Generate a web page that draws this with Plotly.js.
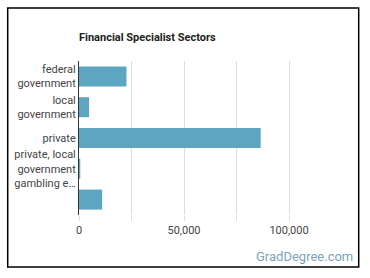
<!DOCTYPE html>
<html>
<head>
<meta charset="utf-8">
<script src="https://cdn.plot.ly/plotly-3.0.1.min.js"></script>
<style>html,body{margin:0;padding:0;background:#fff;}#chart{width:370px;height:278px;}</style>
</head>
<body>
<div id="chart"></div>
<script>
const categories = ["federal government", "local government", "private", "private, local government gambling establishments", "other"];
const tickLabels = ["federal<br>government", "local<br>government", "private", "private, local<br>government<br>gambling e\u2026", ""];
const values = [22600, 4800, 86500, 600, 11000];
const xTickVals = [0, 50000, 100000];
const xTickText = ["0", "50,000", "100,000"];

const L = 79.3, R = 370 - 331.3, T = 61, B = 278 - 215;
const W = 370 - L - R, H = 278 - T - B;
const px = v => (v - L) / W;
const py = v => (278 - B - v) / H;

const trace = {
  type: 'bar', orientation: 'h',
  x: values, y: categories,
  marker: {color: '#5ea5c2'},
  hoverinfo: 'none'
};
const layout = {
  width: 370, height: 278,
  margin: {l: L, r: R, t: T, b: B, pad: 0},
  paper_bgcolor: '#fff', plot_bgcolor: '#fff',
  font: {family: 'Roboto, sans-serif', size: 11, color: '#444'},
  showlegend: false,
  bargap: 0.35,
  title: {text: '<b>Financial Specialist Sectors</b>', x: 79/370, xanchor: 'left', xref: 'container',
          y: 1 - 37/278, yanchor: 'middle', yref: 'container',
          font: {family: 'Roboto, sans-serif', size: 11, color: '#222'}},
  xaxis: {range: [0, 120000], tickvals: xTickVals, ticktext: xTickText,
          showgrid: true, gridcolor: '#dddddd', zeroline: false, showline: false,
          ticks: 'outside', ticklen: 5, tickcolor: '#dddddd',
          minor: {dtick: 25000, tick0: 0, showgrid: true, gridcolor: '#dddddd', ticks: 'outside', ticklen: 5, tickcolor: '#dddddd'},
          tickfont: {size: 11, color: '#444'}, fixedrange: true},
  yaxis: {type: 'category', autorange: 'reversed', tickvals: categories, ticktext: tickLabels,
          showgrid: false, zeroline: false, showline: true, linecolor: '#333', linewidth: 1,
          ticks: '', tickfont: {size: 11, color: '#444'}, fixedrange: true},
  shapes: [{type: 'rect', xref: 'paper', yref: 'paper',
            x0: px(8), x1: px(359), y0: py(267), y1: py(8),
            line: {color: '#000', width: 1.5}, fillcolor: 'rgba(0,0,0,0)', layer: 'above'}],
  annotations: [{text: 'GradDegree.com', xref: 'paper', yref: 'paper',
                 x: px(355), y: py(256), xanchor: 'right', yanchor: 'middle', showarrow: false,
                 font: {family: 'Roboto, sans-serif', size: 13, color: '#7aa3bd'}}]
};
Plotly.newPlot('chart', [trace], layout, {staticPlot: true, displayModeBar: false});
</script>
</body>
</html>
